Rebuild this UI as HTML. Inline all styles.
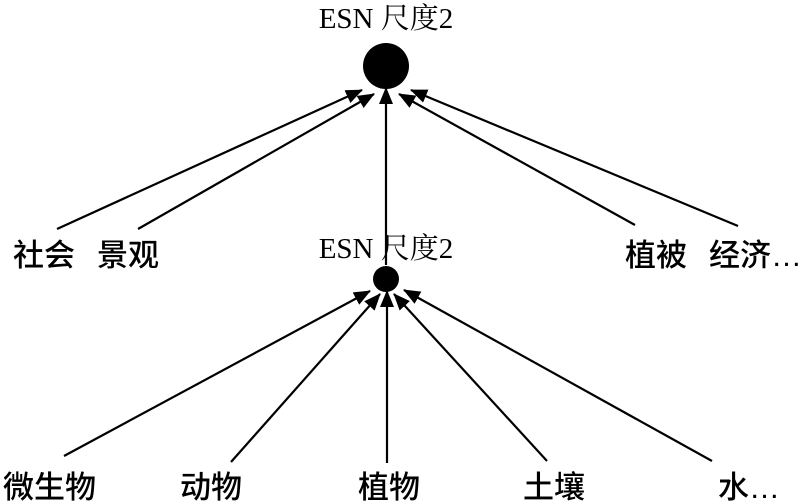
<!DOCTYPE html>
<html><head><meta charset="utf-8"><style>
html,body{margin:0;padding:0;background:#fff;}
svg{display:block}
text{font-family:"Liberation Serif","Noto Serif CJK SC",serif;fill:#000}
.c{font-family:"Liberation Sans","Noto Sans CJK SC",sans-serif;font-size:31px;font-weight:500}
</style></head><body>
<svg width="800" height="503" viewBox="0 0 800 503" xmlns="http://www.w3.org/2000/svg">
<defs><marker id="a" markerWidth="17" markerHeight="14" refX="16" refY="7" orient="auto" markerUnits="userSpaceOnUse"><path d="M0,0 L17,7 L0,14 Z" fill="#000"/></marker></defs>
<g stroke="#000" stroke-width="2.2" fill="none" marker-end="url(#a)">
<line x1="57" y1="229" x2="362" y2="90"/>
<line x1="138" y1="229" x2="374" y2="94"/>
<line x1="386" y1="265" x2="386" y2="88"/>
<line x1="635" y1="225" x2="399" y2="94"/>
<line x1="738" y1="226" x2="411" y2="90"/>
<line x1="64" y1="456" x2="370" y2="291"/>
<line x1="231" y1="462" x2="380" y2="294"/>
<line x1="387" y1="463" x2="387" y2="291"/>
<line x1="547" y1="461" x2="394" y2="294"/>
<line x1="712" y1="461" x2="404" y2="290"/>
</g>
<circle cx="386" cy="66" r="23" fill="#000"/>
<circle cx="386" cy="279" r="13" fill="#000"/>
<text x="386" y="28" font-size="29" text-anchor="middle">ESN 尺度2</text>
<text x="386" y="258" font-size="29" text-anchor="middle">ESN 尺度2</text>
<text class="c" x="13" y="266">社会</text>
<text class="c" x="97" y="266">景观</text>
<text class="c" x="625" y="266">植被</text>
<text class="c" x="709" y="266">经济…</text>
<text class="c" x="3" y="498">微生物</text>
<text class="c" x="180" y="498">动物</text>
<text class="c" x="358" y="498">植物</text>
<text class="c" x="523" y="498">土壤</text>
<text class="c" x="718" y="498">水…</text>
</svg>
</body></html>
